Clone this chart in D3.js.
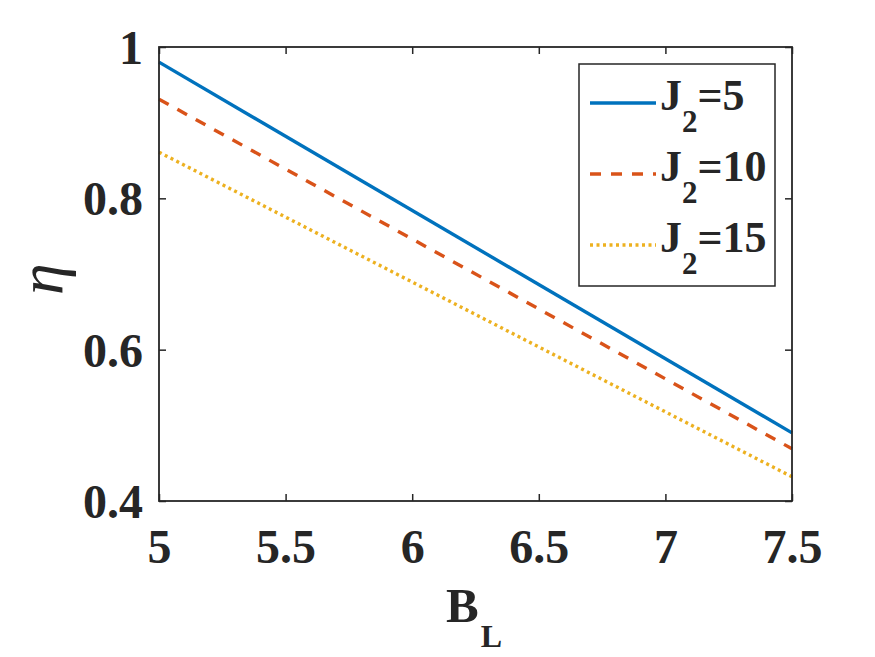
<!DOCTYPE html>
<html>
<head>
<meta charset="utf-8">
<script src="https://cdn.jsdelivr.net/npm/d3@7"></script>
<style>
  body { margin: 0; background: #fff; }
  svg { display: block; }
</style>
</head>
<body>
<script>
// ---- data ----
const bL = [5, 7.5];
const eta_J5 = [0.980, 0.490];
const eta_J10 = [0.931, 0.469];
const eta_J15 = [0.861, 0.432];
const seriesNames = ["5", "10", "15"];
const seriesColors = ["#0072BD", "#D95319", "#EDB120"];
const seriesDash = [null, "11,10", "3,3.5"];
const xTicks = [5, 5.5, 6, 6.5, 7, 7.5];
const xTickLabels = ["5", "5.5", "6", "6.5", "7", "7.5"];
const yTicks = [0.4, 0.6, 0.8, 1];
const yTickLabels = ["0.4", "0.6", "0.8", "1"];

const W = 875, H = 657;
const L = 159, R = 792, T = 47, B = 501;
const font = "Liberation Serif";
const axisColor = "#262626";

const svg = d3.select("body").append("svg").attr("width", W).attr("height", H)
  .style("font-family", font);

const x = d3.scaleLinear().domain([5, 7.5]).range([L, R]);
const y = d3.scaleLinear().domain([0.4, 1]).range([B, T]);

const series = [eta_J5, eta_J10, eta_J15];

// lines
const line = d3.line().x(d => x(d[0])).y(d => y(d[1]));
series.forEach((vals, i) => {
  svg.append("path")
    .datum(bL.map((b, k) => [b, vals[k]]))
    .attr("d", line)
    .attr("fill", "none")
    .attr("stroke", seriesColors[i])
    .attr("stroke-width", 3.4)
    .attr("stroke-dasharray", seriesDash[i]);
});

// axes
function styleAxis(g) {
  g.attr("font-family", font).attr("font-size", 48).attr("font-weight", "bold");
  g.select(".domain").remove();
  g.selectAll(".tick line").attr("stroke", axisColor).attr("stroke-width", 1.5);
}
const gB = svg.append("g").attr("transform", `translate(0,${B})`)
  .call(d3.axisBottom(x).tickValues(xTicks).tickSize(-7).tickFormat((d, i) => xTickLabels[i]));
styleAxis(gB);
gB.selectAll(".tick text").attr("y", 62).attr("dy", null).attr("fill", axisColor);

const gT = svg.append("g").attr("transform", `translate(0,${T})`)
  .call(d3.axisTop(x).tickValues(xTicks).tickSize(-7).tickFormat(""));
styleAxis(gT);

const gL = svg.append("g").attr("transform", `translate(${L},0)`)
  .call(d3.axisLeft(y).tickValues(yTicks).tickSize(-7).tickFormat((d, i) => yTickLabels[i]));
styleAxis(gL);
gL.selectAll(".tick text").attr("x", -16).attr("dy", null).attr("y", 16.5).attr("fill", axisColor);

const gR = svg.append("g").attr("transform", `translate(${R},0)`)
  .call(d3.axisRight(y).tickValues(yTicks).tickSize(-7).tickFormat(""));
styleAxis(gR);

// box
svg.append("rect").attr("x", L).attr("y", T).attr("width", R - L).attr("height", B - T)
  .attr("fill", "none").attr("stroke", axisColor).attr("stroke-width", 1.8);

// x label
const xl = svg.append("text").attr("x", 446).attr("y", 622)
  .attr("font-family", font).attr("font-weight", "bold").attr("font-size", 49).attr("fill", axisColor);
xl.append("tspan").text("B");
xl.append("tspan").attr("font-size", 32).attr("dy", 25).attr("dx", 2).text("L");

// y label
svg.append("text")
  .attr("transform", "translate(62,279) rotate(-90)")
  .attr("text-anchor", "middle")
  .attr("font-family", font).attr("font-style", "italic").attr("font-size", 64).attr("fill", axisColor)
  .text("η");

// legend
const lg = svg.append("g");
lg.append("rect").attr("x", 579).attr("y", 64).attr("width", 196).attr("height", 222)
  .attr("fill", "#fff").attr("stroke", axisColor).attr("stroke-width", 1.5);
const rowsY = [103, 174, 245];
seriesNames.forEach((n, i) => {
  lg.append("line").attr("x1", 590).attr("x2", 656).attr("y1", rowsY[i]).attr("y2", rowsY[i])
    .attr("stroke", seriesColors[i]).attr("stroke-width", 3.4)
    .attr("stroke-dasharray", seriesDash[i]);
  const t = lg.append("text").attr("x", 660).attr("y", rowsY[i] + 7)
    .attr("font-family", font).attr("font-weight", "bold").attr("font-size", 44).attr("fill", axisColor);
  t.append("tspan").text("J");
  t.append("tspan").attr("font-size", 31).attr("dy", 22).text("2");
  t.append("tspan").attr("dy", -22).text("=" + n);
});
</script>
</body>
</html>
